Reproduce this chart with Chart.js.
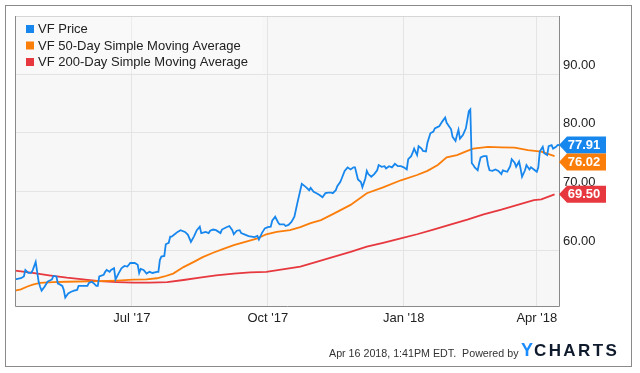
<!DOCTYPE html>
<html><head><meta charset="utf-8">
<script src="https://cdn.jsdelivr.net/npm/chart.js@4/dist/chart.umd.min.js"></script>
<style>
html,body{margin:0;padding:0;background:#fff;}
#wrap{position:relative;width:640px;height:373px;overflow:hidden;}
canvas{position:absolute;left:0;top:0;}
#foot{position:absolute;left:329px;top:346px;font:10.7px "Liberation Sans",Arial,sans-serif;color:#333;white-space:pre;line-height:14px;}
#logo{position:absolute;left:521px;top:340px;font:bold 17px "Liberation Sans",Arial,sans-serif;letter-spacing:2.4px;color:#0f1b2d;line-height:20px;white-space:pre;}
#logo span{color:#1a8cff;letter-spacing:1px;font-size:18px;}
</style></head>
<body>
<div id="wrap">
<canvas id="c" width="640" height="373"></canvas>
<div id="foot">Apr 16 2018, 1:41PM EDT.  Powered by</div>
<div id="logo"><span>Y</span>CHARTS</div>
</div>
<script>
// x values are days counted from 1 Jul 2017
const seriesLabels = ["VF Price", "VF 50-Day Simple Moving Average", "VF 200-Day Simple Moving Average"];
const seriesColors = ["#1787ee", "#fb7d0a", "#e6383e"];

const priceDays = [-79,-75,-73,-72,-70,-68,-67,-65,-63,-62,-61,-59,-57,-54,-53,-51,-50,-49,-47,-46,-45,-43,-41,-39,-37,-36,-33,-30,-29,-27,-26,-24,-23,-22,-19,-18,-17,-15,-14,-12,-11,-9,-7,-5,-3,-1,2,4,5,6,8,10,12,14,17,18,19,20,22,23,25,26,27,29,31,33,36,38,40,42,44,46,47,50,52,53,55,57,60,61,64,66,68,69,71,73,74,77,79,81,83,85,86,88,90,92,94,95,97,99,100,103,104,106,108,110,112,114,115,117,118,120,121,123,125,127,129,131,133,135,136,138,139,141,142,144,146,148,150,151,153,155,156,158,159,160,162,164,166,167,169,171,172,174,176,178,180,182,184,186,187,189,190,191,193,194,196,197,199,200,202,204,205,207,208,210,212,213,216,217,219,220,221,222,224,226,227,228,229,230,231,232,234,235,236,238,240,241,242,244,246,248,250,251,252,254,256,257,259,260,262,263,264,266,267,269,270,272,274,275,276,278,279,281,282,284,285,287,288,289];
const priceValues = [55.0,55.2,55.5,56.6,56.1,56.1,56.6,58.0,54.6,53.75,53.1,53.75,54.6,55.0,55.6,55.5,54.3,54.2,53.9,53.2,51.9,52.6,52.9,53.1,53.2,53.9,53.9,53.9,54.4,54.6,54.4,53.9,53.9,55.5,55.8,56.3,56.6,56.3,56.6,56.9,55.0,56.0,56.9,57.3,57.2,57.8,57.8,57.5,56.1,56.8,56.6,56.0,56.3,56.1,56.3,56.3,58.3,58.9,59.0,61.0,61.25,62.3,62.3,62.7,63.1,63.4,63.1,62.6,61.4,62.3,63.4,64.0,62.9,63.1,62.9,63.3,63.5,63.4,62.9,63.5,63.9,64.1,63.4,62.7,63.3,63.4,62.9,62.6,62.4,62.3,62.2,62.4,61.8,62.9,63.7,63.9,64.0,65.0,65.7,64.7,64.4,64.4,64.1,64.3,64.8,65.7,68.0,70.2,71.3,70.9,70.7,70.2,70.6,69.95,69.7,69.4,69.0,69.7,69.8,69.8,69.7,70.2,70.9,71.6,72.2,73.5,74.1,73.75,74.1,74.1,72.05,71.6,70.7,72.2,73.5,72.96,72.5,72.96,73.6,74.5,74.2,74.3,73.9,74.3,74.1,74.7,74.3,74.3,74.1,73.75,75.5,76.0,76.6,77.3,76.2,77.7,77.3,76.9,76.8,78.3,79.9,80.2,80.75,81.0,81.1,81.9,82.6,81.7,80.6,79.3,78.6,79.6,80.5,79.0,79.6,80.75,82.2,83.7,84.0,74.8,74.5,74.1,73.6,74.8,75.8,76.0,76.0,74.5,73.6,73.5,73.75,73.5,72.96,73.6,73.5,73.35,74.3,75.5,74.9,74.2,75.1,73.9,72.5,73.6,74.5,73.75,74.1,73.75,73.35,74.1,76.8,77.6,76.5,76.2,77.7,77.9,77.3,77.6,77.9,77.91];

const sma50Days = [-79,-75,-71,-67,-62,-53,-44,-22,-10,1,10,17,22,28,35,42,48,55,62,69,78,85,91,98,107,114,121,128,137,148,159,170,182,193,200,207,213,220,227,231,241,250,259,268,277,286];
const sma50Values = [53.1,53.3,53.75,54.1,54.4,54.55,54.6,54.7,54.8,54.95,55.0,55.2,55.5,56.0,57.1,58.0,58.8,59.55,60.2,60.85,61.5,62.0,62.7,63.1,63.4,63.9,64.6,65.1,66.25,67.7,69.7,70.7,71.9,72.8,73.5,74.5,75.8,76.2,76.9,77.3,77.6,77.5,77.45,77.05,76.8,76.02];

const sma200Days = [-79,-67,-56,-44,-33,-22,-10,1,12,24,35,46,57,69,80,91,102,114,125,137,148,159,170,182,193,204,216,227,238,250,261,272,277,286];
const sma200Values = [56.5,56.1,55.7,55.3,55.0,54.7,54.55,54.45,54.45,54.55,54.9,55.3,55.7,56.0,56.2,56.3,56.7,57.2,58.0,58.9,59.7,60.6,61.25,62.0,62.7,63.5,64.4,65.2,66.1,66.9,67.7,68.5,68.65,69.5];

const xTickDays = [0, 92, 184, 274];
const xTickLabels = ["Jul '17", "Oct '17", "Jan '18", "Apr '18"];
const yTickValues = [60, 70, 80, 90];

const FONT = '"Liberation Sans", Arial, sans-serif';
const toPts = (xs, ys) => xs.map((x, i) => ({x: x, y: ys[i]}));

const framePlugin = {
  id: 'frame',
  beforeDraw(chart) {
    const ctx = chart.ctx, a = chart.chartArea;
    ctx.save();
    ctx.fillStyle = '#ffffff';
    ctx.fillRect(0, 0, chart.width, chart.height);
    ctx.strokeStyle = '#8a8a8a';
    ctx.lineWidth = 1;
    ctx.strokeRect(5.5, 5.5, 626, 361);
    ctx.fillStyle = '#f7f7f7';
    ctx.fillRect(a.left, a.top, a.right - a.left, a.bottom - a.top);
    ctx.restore();
  },
  afterDatasetsDraw(chart) {
    const ctx = chart.ctx, a = chart.chartArea;
    ctx.save();
    ctx.lineWidth = 1;
    ctx.strokeStyle = '#d6d6d6';
    ctx.beginPath(); ctx.moveTo(a.left, a.top + 0.5); ctx.lineTo(a.right, a.top + 0.5); ctx.stroke();
    ctx.strokeStyle = '#8a8a8a';
    ctx.beginPath();
    ctx.moveTo(a.left + 0.5, a.top); ctx.lineTo(a.left + 0.5, a.bottom - 0.5);
    ctx.lineTo(a.right + 0.5, a.bottom - 0.5); ctx.lineTo(a.right + 0.5, a.top);
    ctx.stroke();
    // legend
    ctx.fillStyle = 'rgba(255,255,255,0.3)';
    ctx.fillRect(a.left + 1, a.top + 1, 246, 56);
    ctx.font = '13px ' + FONT;
    ctx.textBaseline = 'middle';
    ctx.textAlign = 'left';
    chart.data.datasets.forEach((ds, i) => {
      const yc = 29 + i * 16.5;
      ctx.fillStyle = ds.borderColor;
      ctx.fillRect(26, yc - 4, 8, 8);
      ctx.fillStyle = '#222';
      ctx.fillText(ds.label, 38, yc + 0.5);
    });
    ctx.restore();
  },
  afterDraw(chart) {
    const ctx = chart.ctx, a = chart.chartArea, ys = chart.scales.y;
    const h = 17;
    const marks = chart.data.datasets.map(ds => {
      const last = ds.data[ds.data.length - 1].y;
      return {v: last, y: ys.getPixelForValue(last), c: ds.borderColor};
    }).sort((p, q) => p.y - q.y);
    let prevBottom = -1e9;
    marks.forEach(m => {
      let top = m.y - h / 2;
      if (top < prevBottom) top = prevBottom;
      m.top = top; prevBottom = top + h;
    });
    ctx.save();
    marks.forEach(m => {
      const x0 = a.right, yc = m.top + h / 2;
      ctx.fillStyle = m.c;
      ctx.beginPath();
      ctx.moveTo(x0, yc);
      ctx.lineTo(x0 + 8, m.top);
      ctx.lineTo(606, m.top);
      ctx.lineTo(606, m.top + h);
      ctx.lineTo(x0 + 8, m.top + h);
      ctx.closePath();
      ctx.fill();
      ctx.fillStyle = '#fff';
      ctx.font = 'bold 13px ' + FONT;
      ctx.textAlign = 'center';
      ctx.textBaseline = 'middle';
      ctx.fillText(m.v.toFixed(2), 584, yc + 0.5);
    });
    ctx.restore();
  }
};

new Chart(document.getElementById('c'), {
  type: 'line',
  data: {
    datasets: [
      {label: seriesLabels[0], data: toPts(priceDays, priceValues), borderColor: seriesColors[0], borderWidth: 1.8, pointRadius: 0, tension: 0},
      {label: seriesLabels[1], data: toPts(sma50Days, sma50Values), borderColor: seriesColors[1], borderWidth: 1.8, pointRadius: 0, tension: 0},
      {label: seriesLabels[2], data: toPts(sma200Days, sma200Values), borderColor: seriesColors[2], borderWidth: 1.8, pointRadius: 0, tension: 0}
    ]
  },
  options: {
    responsive: false,
    animation: false,
    layout: {padding: {left: 15, top: 16, right: 0, bottom: 0}},
    plugins: {legend: {display: false}, tooltip: {enabled: false}},
    scales: {
      x: {
        type: 'linear', min: -79, max: 289,
        afterBuildTicks: s => { s.ticks = xTickDays.map(v => ({value: v})); },
        afterFit: s => { s.height = 66; },
        grid: {color: '#e4e4e4', drawTicks: false},
        border: {display: false},
        ticks: {padding: 4, maxRotation: 0, autoSkip: false, color: '#222', font: {family: FONT, size: 13},
          callback: (v, i) => xTickLabels[i]}
      },
      y: {
        position: 'right', min: 50.3, max: 99.9,
        afterBuildTicks: s => { s.ticks = yTickValues.map(v => ({value: v})); },
        afterFit: s => { s.width = 81; },
        grid: {color: '#e4e4e4', drawTicks: false},
        border: {display: false},
        ticks: {padding: 4, labelOffset: -9, color: '#222', font: {family: FONT, size: 13},
          callback: v => Number(v).toFixed(2)}
      }
    }
  },
  plugins: [framePlugin]
});
</script>
</body></html>
